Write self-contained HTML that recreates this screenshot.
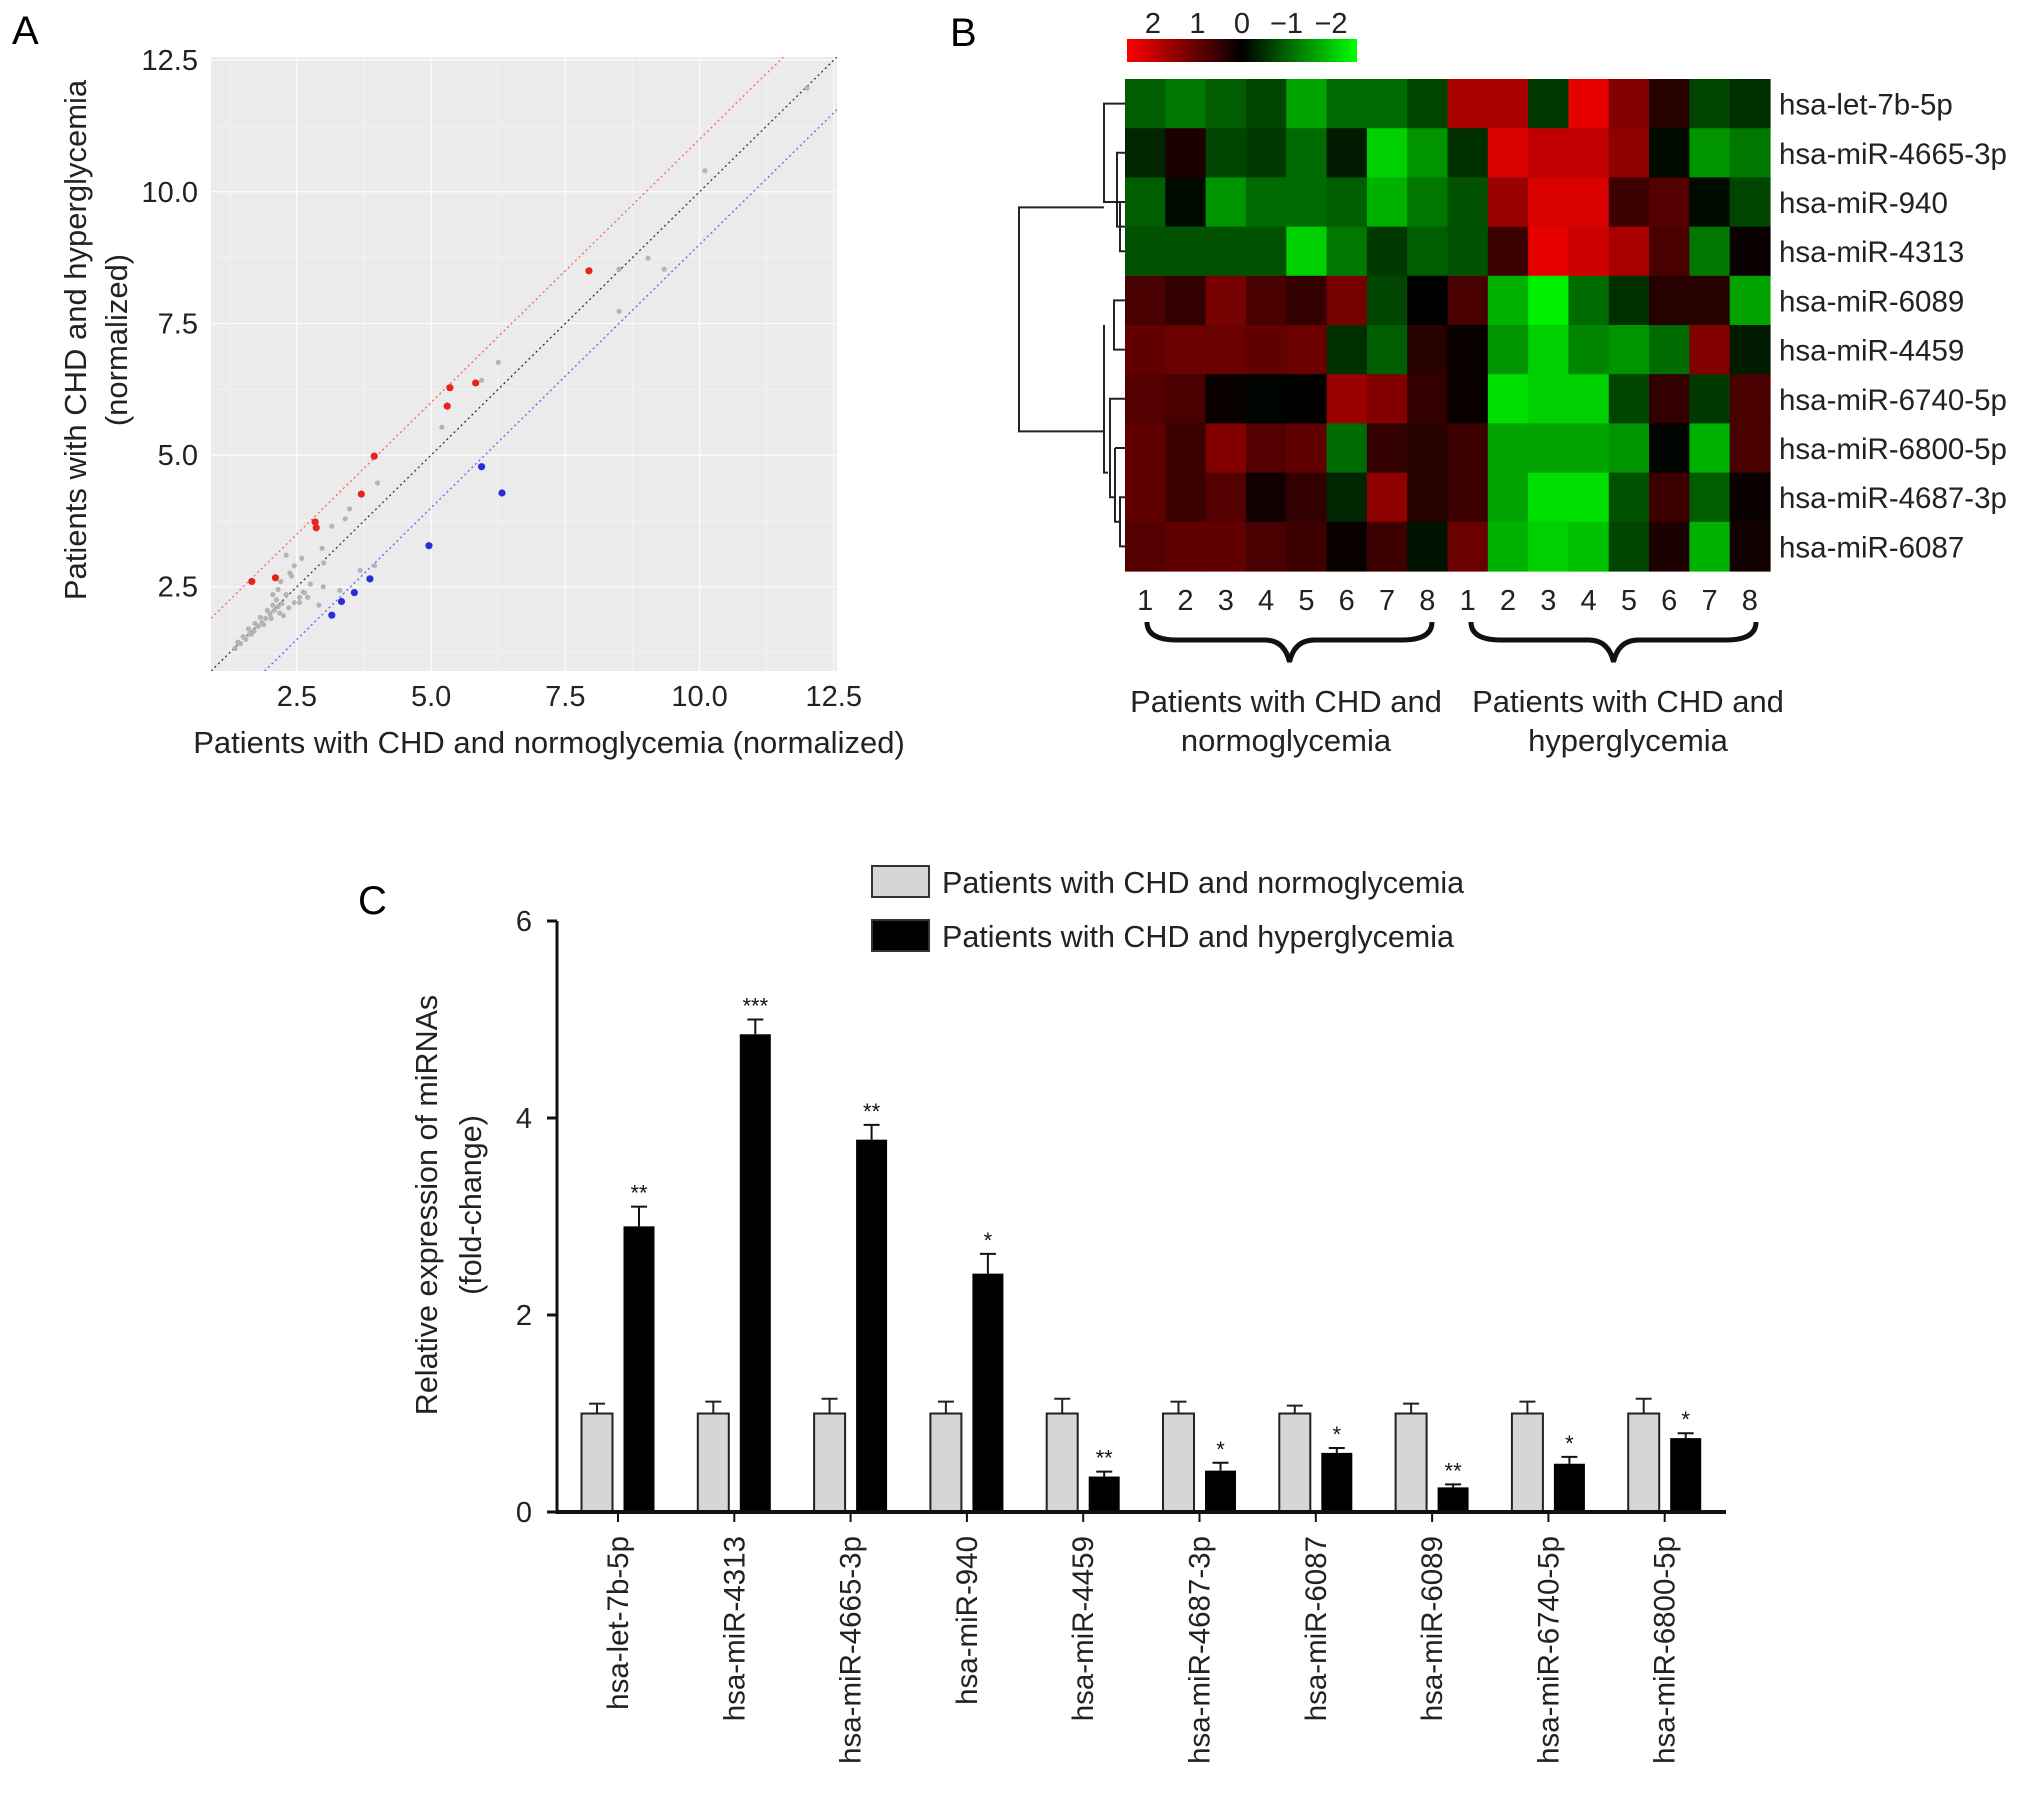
<!DOCTYPE html>
<html><head><meta charset="utf-8"><style>
html,body{margin:0;padding:0;background:#fff;}
svg{display:block;font-family:"Liberation Sans",sans-serif;}
</style></head><body>
<svg id="fig" width="2032" height="1793" viewBox="0 0 2032 1793" xmlns="http://www.w3.org/2000/svg">
<g id="pa"></g>
<g id="pb"></g>
<g id="pc"></g>
</svg>
<script>
// ===== Panel A data =====
const redX = [1.66,2.10,2.84,2.86,3.70,3.94,5.30,5.35,5.83,7.94];
const redY = [2.60,2.67,3.73,3.62,4.26,4.98,5.93,6.28,6.37,8.50];
const blueX = [3.15,3.33,3.57,3.86,4.96,5.94,6.32];
const blueY = [1.96,2.22,2.39,2.65,3.28,4.78,4.28];
const grayX = [8.50,8.50,9.04,9.34,10.1,12.0,6.25,5.94,5.20,4.00,3.48,3.40,3.15,2.97,3.00,2.99,3.68,3.95,3.30,2.64,2.59,2.37,2.91,2.75,2.55,2.45,2.70,2.20,2.30,2.40,2.15,2.05,2.25,1.35,1.45,1.55,1.62,1.70,1.78,1.85,1.92,2.00,2.08,2.15,2.22,1.50,1.60,1.72,1.82,1.95,2.05,2.12,2.30,1.40,1.65,1.88,2.02,2.18,2.35,2.45,2.55,2.62];
const grayY = [7.73,8.53,8.74,8.53,10.4,11.97,6.76,6.42,5.53,4.47,3.98,3.79,3.65,3.23,2.95,2.50,2.81,2.90,2.43,2.39,3.04,2.76,2.15,2.55,2.20,2.90,2.30,2.60,3.10,2.70,2.45,2.35,1.95,1.33,1.42,1.50,1.60,1.66,1.75,1.82,1.90,1.98,2.05,2.12,2.18,1.55,1.70,1.80,1.92,2.05,2.15,2.25,2.35,1.45,1.60,1.78,1.90,2.00,2.10,2.20,2.30,2.40];
const aTicks = [2.5,5.0,7.5,10.0,12.5];
const aTickLabels = ["2.5","5.0","7.5","10.0","12.5"];

// ===== Panel B data =====
const hmRows = ["hsa-let-7b-5p","hsa-miR-4665-3p","hsa-miR-940","hsa-miR-4313","hsa-miR-6089","hsa-miR-4459","hsa-miR-6740-5p","hsa-miR-6800-5p","hsa-miR-4687-3p","hsa-miR-6087"];
const hmCols = ["1","2","3","4","5","6","7","8","1","2","3","4","5","6","7","8"];
const hmValues = [
[-1.0,-1.2,-1.0,-0.8,-1.5,-1.1,-1.1,-0.8, 1.5,1.5,-0.7,2.0,1.2,0.4,-0.8,-0.6],
[-0.5,0.3,-0.8,-0.7,-1.1,-0.4,-1.8,-1.4, -0.6,1.9,1.7,1.7,1.3,-0.2,-1.4,-1.2],
[-1.0,-0.2,-1.4,-1.1,-1.1,-1.0,-1.6,-1.2, -0.9,1.4,1.9,1.9,0.6,0.8,-0.2,-0.8],
[-0.9,-0.9,-0.9,-0.9,-1.8,-1.2,-0.7,-1.0, -0.9,0.6,2.0,1.8,1.5,0.7,-1.2,0.1],
[0.7,0.5,1.1,0.7,0.5,1.1,-0.8,0.0, 0.7,-1.6,-2.0,-1.1,-0.6,0.4,0.4,-1.5],
[0.9,1.0,1.0,0.9,1.0,-0.6,-1.0,0.4, 0.1,-1.4,-1.8,-1.3,-1.4,-1.1,1.2,-0.4],
[0.8,0.7,0.1,-0.1,0.0,1.4,1.2,0.5, 0.1,-1.9,-1.8,-1.8,-0.8,0.5,-0.7,0.7],
[0.9,0.6,1.2,0.8,0.9,-1.1,0.5,0.4, 0.6,-1.5,-1.5,-1.5,-1.4,-0.1,-1.6,0.7],
[0.9,0.6,0.8,0.2,0.5,-0.5,1.3,0.4, 0.6,-1.5,-1.9,-1.9,-0.9,0.6,-1.0,0.1],
[0.8,0.9,0.9,0.7,0.6,0.1,0.6,-0.3, 1.0,-1.6,-1.8,-1.7,-0.8,0.3,-1.6,0.2]];
const cbLabels = ["2","1","0","\u22121","\u22122"];

// ===== Panel C data =====
const cCats = ["hsa-let-7b-5p","hsa-miR-4313","hsa-miR-4665-3p","hsa-miR-940","hsa-miR-4459","hsa-miR-4687-3p","hsa-miR-6087","hsa-miR-6089","hsa-miR-6740-5p","hsa-miR-6800-5p"];
const cNormo = [1,1,1,1,1,1,1,1,1,1];
const cNormoErr = [0.1,0.12,0.15,0.12,0.15,0.12,0.08,0.1,0.12,0.15];
const cHyper = [2.9,4.85,3.78,2.42,0.36,0.42,0.6,0.25,0.49,0.75];
const cHyperErr = [0.2,0.15,0.15,0.2,0.05,0.08,0.05,0.03,0.07,0.05];
const cStars = ["**","***","**","*","**","*","*","**","*","*"];
const cTicks = [0,2,4,6];

const NS="http://www.w3.org/2000/svg";
function mk(parent,tag,attrs,text){const e=document.createElementNS(NS,tag);for(const k in attrs)e.setAttribute(k,attrs[k]);if(text!==undefined)e.textContent=text;parent.appendChild(e);return e;}

// ----- Panel A -----
(function(){
const g=document.getElementById('pa');
const L=211,R=837,T=57,B=671,dmin=0.9,dmax=12.56;
const sx=v=>L+(v-dmin)/(dmax-dmin)*(R-L);
const sy=v=>B-(v-dmin)/(dmax-dmin)*(B-T);
let t=mk(g,'text',{x:12,y:44,'font-size':40},'A');


let bg=mk(g,'rect',{x:L,y:T,width:R-L,height:B-T,fill:'#ebebeb'});


const minor=[1.25,3.75,6.25,8.75,11.25];
minor.forEach(v=>{mk(g,'line',{x1:sx(v),x2:sx(v),y1:T,y2:B,stroke:'#f3f3f3','stroke-width':1});mk(g,'line',{x1:L,x2:R,y1:sy(v),y2:sy(v),stroke:'#f3f3f3','stroke-width':1});});
aTicks.forEach((v,i)=>{
 mk(g,'line',{x1:sx(v),x2:sx(v),y1:T,y2:B,stroke:'#fafafa','stroke-width':1.5});
 mk(g,'line',{x1:L,x2:R,y1:sy(v),y2:sy(v),stroke:'#fafafa','stroke-width':1.5});
 let a=mk(g,'text',{x:sx(v),y:706,'font-size':29,'text-anchor':'middle',fill:'#222'},aTickLabels[i]);
 
 
 let b=mk(g,'text',{x:198,y:sy(v)+10,'font-size':29,'text-anchor':'end',fill:'#222'},aTickLabels[i]);
 
 
});
const cp=mk(g,'clipPath',{id:'clipA'});mk(cp,'rect',{x:L,y:T,width:R-L,height:B-T});
const lines=[[0,'#333'],[1,'#ff6060'],[-1,'#6060ff']];
lines.forEach(([off,c])=>{let l=mk(g,'line',{x1:sx(dmin),y1:sy(dmin+off),x2:sx(dmax),y2:sy(dmax+off),stroke:c,'stroke-width':1.3,'stroke-dasharray':'2,3','clip-path':'url(#clipA)'});
 
 });
grayX.forEach((x,i)=>{let c=mk(g,'circle',{cx:sx(x),cy:sy(grayY[i]),r:2.6,fill:'#b4b4b4'});
 
 });
redX.forEach((x,i)=>{let c=mk(g,'circle',{cx:sx(x),cy:sy(redY[i]),r:3.6,fill:'#e8231f'});
 
 });
blueX.forEach((x,i)=>{let c=mk(g,'circle',{cx:sx(x),cy:sy(blueY[i]),r:3.6,fill:'#2b2bd8'});
 
 });
let xt=mk(g,'text',{x:549,y:753,'font-size':31,'text-anchor':'middle',fill:'#222'},'Patients with CHD and normoglycemia (normalized)');


let yt=mk(g,'text',{transform:'translate(86,340) rotate(-90)','font-size':31,'text-anchor':'middle',fill:'#222'},'Patients with CHD and hyperglycemia');


let yt2=mk(g,'text',{transform:'translate(127,340) rotate(-90)','font-size':31,'text-anchor':'middle',fill:'#222'},'(normalized)');


})();

// ----- Panel B -----
(function(){
const g=document.getElementById('pb');
const L=1125,R=1770,T=79,B=571;
const cw=(R-L)/hmCols.length, rh=(B-T)/hmRows.length;
const col=v=>{const a=Math.min(1,Math.abs(v)/2);return v>=0?`rgb(${Math.round(230*Math.pow(a,1.1))},0,0)`:`rgb(0,${Math.round(240*Math.pow(a,1.35))},0)`;};
let t=mk(g,'text',{x:950,y:46,'font-size':40},'B');


const gr=mk(g,'linearGradient',{id:'cbg',x1:0,x2:1,y1:0,y2:0});
mk(gr,'stop',{offset:'0','stop-color':'#ff0000'});mk(gr,'stop',{offset:'0.5','stop-color':'#000'});mk(gr,'stop',{offset:'1','stop-color':'#00ff00'});
let cb=mk(g,'rect',{x:1127,y:39,width:230,height:23,fill:'url(#cbg)'});


cbLabels.forEach((s,i)=>{let e=mk(g,'text',{x:1153+i*44.5,y:33,'font-size':29,'text-anchor':'middle',fill:'#222'},s);
 
 });
hmValues.forEach((row,r)=>row.forEach((v,c)=>{
 let e=mk(g,'rect',{x:L+c*cw,y:T+r*rh,width:cw+0.6,height:rh+0.6,fill:col(v)});
 
 
}));
hmRows.forEach((s,r)=>{let e=mk(g,'text',{x:1779,y:T+(r+0.5)*rh+11,'font-size':29.5,fill:'#222'},s);
 
 });
hmCols.forEach((s,c)=>{let e=mk(g,'text',{x:L+(c+0.5)*cw,y:610,'font-size':29,'text-anchor':'middle',fill:'#222'},s);
 
 });
const yc=r=>T+(r+0.5)*rh;
const dp=`M1125,${yc(0)}H1104V${(yc(1)+yc(3))/2}H1125 M1125,${yc(1)}H1117V${(yc(2)+yc(3))/2}H1125 M1125,${yc(2)}H1120V${yc(3)}H1125
M1125,${yc(4)}H1114V${yc(5)}H1125 M1104,${(yc(4)+yc(5))/2}V${(yc(6)+yc(9))/2}H1108 M1108,${(yc(6)+yc(9))/2}
M1125,${yc(6)}H1110V${(yc(7)+yc(9))/2}H1115 M1115,${yc(7)}V${(yc(8)+yc(9))/2}H1120 M1125,${yc(7)}H1115 M1125,${yc(8)}H1120V${yc(9)}H1125
M1104,${(yc(0)+yc(3))/2 + 30}H1019V${ (yc(4)+yc(9))/2 +8}H1104`;
let d=mk(g,'path',{d:dp,fill:'none',stroke:'#222','stroke-width':2});


function brace(x1,x2,name){const m=(x1+x2)/2,y=622;
 let p=mk(g,'path',{d:`M${x1},${y} Q${x1},${y+18} ${x1+30},${y+18} L${m-25},${y+18} Q${m-5},${y+18} ${m},${y+40} Q${m+5},${y+18} ${m+25},${y+18} L${x2-30},${y+18} Q${x2},${y+18} ${x2},${y}`,fill:'none',stroke:'#111','stroke-width':5});
 
 }
brace(1147,1432,'brace-normoglycemia');brace(1471,1756,'brace-hyperglycemia');
[[1286,'Patients with CHD and','normoglycemia','group-label-normoglycemia'],[1628,'Patients with CHD and','hyperglycemia','group-label-hyperglycemia']].forEach(a=>{
 let e=mk(g,'text',{x:a[0],y:712,'font-size':31,'text-anchor':'middle',fill:'#222'},a[1]);
 
 
 let f=mk(g,'text',{x:a[0],y:751,'font-size':31,'text-anchor':'middle',fill:'#222'},a[2]);
 
 });
})();

// ----- Panel C -----
(function(){
const g=document.getElementById('pc');
const X0=557,Y0=1512,Ymax=6,Ytop=921,step=116.3,first=618,bw=31;
const sy=v=>Y0-(v/Ymax)*(Y0-Ytop);
let t=mk(g,'text',{x:358,y:914,'font-size':40},'C');


cCats.forEach((c,i)=>{
 const gc=first+i*step;
 const gx=gc-21-bw/2, hx=gc+21-bw/2;
 let e1=mk(g,'line',{x1:gc-21,x2:gc-21,y1:sy(cNormo[i]),y2:sy(cNormo[i]+cNormoErr[i]),stroke:'#222','stroke-width':2});
 mk(g,'line',{x1:gc-21-8,x2:gc-21+8,y1:sy(cNormo[i]+cNormoErr[i]),y2:sy(cNormo[i]+cNormoErr[i]),stroke:'#222','stroke-width':2});
 
 
 let b1=mk(g,'rect',{x:gx,y:sy(cNormo[i]),width:bw,height:Y0-sy(cNormo[i]),fill:'#d6d6d6',stroke:'#222','stroke-width':2});
 
 
 let e2=mk(g,'line',{x1:gc+21,x2:gc+21,y1:sy(cHyper[i]),y2:sy(cHyper[i]+cHyperErr[i]),stroke:'#111','stroke-width':2});
 mk(g,'line',{x1:gc+21-8,x2:gc+21+8,y1:sy(cHyper[i]+cHyperErr[i]),y2:sy(cHyper[i]+cHyperErr[i]),stroke:'#111','stroke-width':2});
 
 
 let b2=mk(g,'rect',{x:hx,y:sy(cHyper[i]),width:bw,height:Y0-sy(cHyper[i]),fill:'#000'});
 
 
 let s=mk(g,'text',{x:gc+21,y:sy(cHyper[i]+cHyperErr[i])-6,'font-size':22,'text-anchor':'middle',fill:'#111'},cStars[i]);
 
 
 let l=mk(g,'text',{transform:`translate(${gc+10},1536) rotate(-90)`,'font-size':29.5,'text-anchor':'end',fill:'#222'},c);
 
 
 mk(g,'line',{x1:gc,x2:gc,y1:Y0,y2:Y0+10,stroke:'#111','stroke-width':2});
});
let ax=mk(g,'line',{x1:X0,x2:X0,y1:Ytop,y2:Y0+2,stroke:'#111','stroke-width':3});


let bx=mk(g,'line',{x1:X0,x2:1726,y1:Y0,y2:Y0,stroke:'#111','stroke-width':4});


cTicks.forEach(v=>{mk(g,'line',{x1:X0-10,x2:X0,y1:sy(v),y2:sy(v),stroke:'#111','stroke-width':3});
 let e=mk(g,'text',{x:532,y:sy(v)+10,'font-size':29,'text-anchor':'end',fill:'#222'},String(v));
 
 });
let y1=mk(g,'text',{transform:'translate(437,1205) rotate(-90)','font-size':30.5,'text-anchor':'middle',fill:'#222'},'Relative expression of miRNAs');


let y2=mk(g,'text',{transform:'translate(481,1205) rotate(-90)','font-size':30.5,'text-anchor':'middle',fill:'#222'},'(fold-change)');


[['#d6d6d6','Patients with CHD and normoglycemia',866,'legend-entry-normoglycemia'],['#000','Patients with CHD and hyperglycemia',920,'legend-entry-hyperglycemia']].forEach(a=>{
 let r=mk(g,'rect',{x:872,y:a[2],width:57,height:31,fill:a[0],stroke:'#333','stroke-width':2});
 
 
 let e=mk(g,'text',{x:942,y:a[2]+27,'font-size':30.5,fill:'#222'},a[1]);
 
 });
})();
</script>
</body></html>
